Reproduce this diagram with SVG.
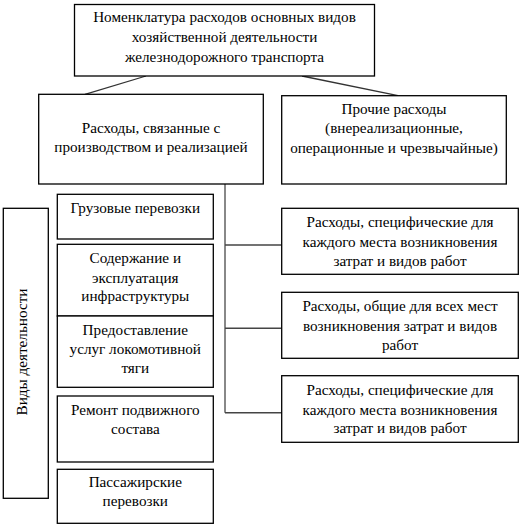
<svg xmlns="http://www.w3.org/2000/svg" width="521" height="526" viewBox="0 0 521 526">
<style>
.b{fill:#fff;stroke:#000;stroke-width:1.3}
.t{fill:#000;text-anchor:middle}
.c{stroke:#333;stroke-width:1.3;fill:none}
.v{stroke:#888;stroke-width:2;fill:none}
.h{stroke:#444;stroke-width:1.5;fill:none}
</style>
<rect width="521" height="526" fill="#fff"/>
<g id="connectors">
<line class="c" x1="146" y1="76" x2="85" y2="94.3"/>
<line class="c" x1="302" y1="76" x2="398" y2="95.7"/>
<polyline class="v" points="225,184 225,412.7"/>
<line class="h" x1="225" y1="245" x2="281.7" y2="245"/>
<line class="h" x1="225" y1="328.3" x2="281.7" y2="328.3"/>
<line class="h" x1="225" y1="412.7" x2="281.7" y2="412.7"/>
</g>
<g id="n-top" class="t">
<rect class="b" x="74.5" y="4.5" width="300" height="71.5"/>
<text font-family="Liberation Serif" font-size="15.2" x="224.5" y="22">Номенклатура расходов основных видов</text>
<text font-family="Liberation Serif" font-size="15.2" x="224.5" y="42">хозяйственной деятельности</text>
<text font-family="Liberation Serif" font-size="15.2" x="224.5" y="62">железнодорожного транспорта</text>
</g>
<g id="n-prod" class="t">
<rect class="b" x="38.7" y="94.3" width="224.6" height="89.7"/>
<text font-family="Liberation Serif" font-size="15.2" x="151" y="132.5">Расходы, связанные с</text>
<text font-family="Liberation Serif" font-size="15.2" x="151" y="152">производством и реализацией</text>
</g>
<g id="n-other" class="t">
<rect class="b" x="281.7" y="95.7" width="224.6" height="88.3"/>
<text font-family="Liberation Serif" font-size="15.2" x="394" y="114">Прочие расходы</text>
<text font-family="Liberation Serif" font-size="15.2" x="394" y="133">(внереализационные,</text>
<text font-family="Liberation Serif" font-size="15.2" x="394" y="153">операционные и чрезвычайные)</text>
</g>
<g id="n-kinds" class="t">
<rect class="b" x="3.3" y="208.3" width="45" height="290"/>
<text font-family="Liberation Serif" font-size="15.2" transform="translate(26.5,352) rotate(-90)">Виды деятельности</text>
</g>
<g id="n-cargo" class="t">
<rect class="b" x="57.3" y="194.3" width="156" height="44.7"/>
<text font-family="Liberation Serif" font-size="15.2" x="135.3" y="212.5">Грузовые перевозки</text>
</g>
<g id="n-infra" class="t">
<rect class="b" x="57.3" y="244.3" width="156" height="71.7"/>
<text font-family="Liberation Serif" font-size="15.2" x="135.3" y="262.5">Содержание и</text>
<text font-family="Liberation Serif" font-size="15.2" x="135.3" y="282.5">эксплуатация</text>
<text font-family="Liberation Serif" font-size="15.2" x="135.3" y="301">инфраструктуры</text>
</g>
<g id="n-loco" class="t">
<rect class="b" x="57.3" y="316" width="156" height="71.3"/>
<text font-family="Liberation Serif" font-size="15.2" x="135.3" y="334.5">Предоставление</text>
<text font-family="Liberation Serif" font-size="15.2" x="135.3" y="354">услуг локомотивной</text>
<text font-family="Liberation Serif" font-size="15.2" x="135.3" y="372.5">тяги</text>
</g>
<g id="n-repair" class="t">
<rect class="b" x="57.3" y="396" width="156" height="66"/>
<text font-family="Liberation Serif" font-size="15.2" x="135.3" y="415">Ремонт подвижного</text>
<text font-family="Liberation Serif" font-size="15.2" x="135.3" y="434">состава</text>
</g>
<g id="n-pass" class="t">
<rect class="b" x="57.3" y="469.3" width="156" height="54"/>
<text font-family="Liberation Serif" font-size="15.2" x="135.3" y="487">Пассажирские</text>
<text font-family="Liberation Serif" font-size="15.2" x="135.3" y="506">перевозки</text>
</g>
<g id="n-spec1" class="t">
<rect class="b" x="281.7" y="208.3" width="236.6" height="66"/>
<text font-family="Liberation Serif" font-size="15.2" x="400" y="226.5">Расходы, специфические для</text>
<text font-family="Liberation Serif" font-size="15.2" x="400" y="246.5">каждого места возникновения</text>
<text font-family="Liberation Serif" font-size="15.2" x="400" y="266">затрат и видов работ</text>
</g>
<g id="n-common" class="t">
<rect class="b" x="281.7" y="292.3" width="236.6" height="66"/>
<text font-family="Liberation Serif" font-size="15.2" x="400" y="310.5">Расходы, общие для всех мест</text>
<text font-family="Liberation Serif" font-size="15.2" x="400" y="330.5">возникновения затрат и видов</text>
<text font-family="Liberation Serif" font-size="15.2" x="400" y="350">работ</text>
</g>
<g id="n-spec2" class="t">
<rect class="b" x="281.7" y="375.7" width="236.6" height="66.6"/>
<text font-family="Liberation Serif" font-size="15.2" x="400" y="394.5">Расходы, специфические для</text>
<text font-family="Liberation Serif" font-size="15.2" x="400" y="414.5">каждого места возникновения</text>
<text font-family="Liberation Serif" font-size="15.2" x="400" y="433">затрат и видов работ</text>
</g>
</svg>
